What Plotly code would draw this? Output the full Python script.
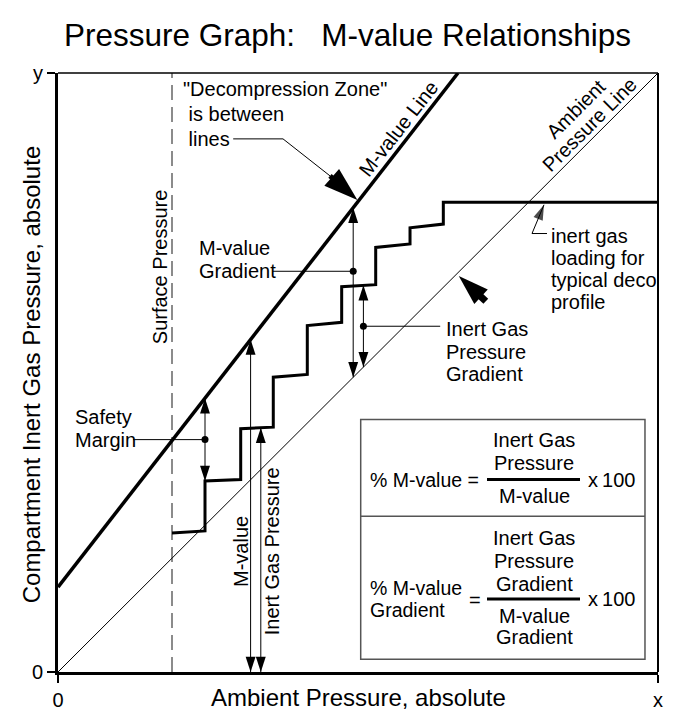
import numpy as np
import plotly.graph_objects as go

# ---------------- data ----------------
ambient_x = [0, 10]
ambient_y = [0, 10]
mvalue_x = [0, 6.667]
mvalue_y = [1.417, 10]
surface_x = [1.9, 1.9]
surface_y = [0, 10]
stair_x = [1.9, 2.45, 2.45, 3.045, 3.045, 3.588, 3.588, 4.155, 4.155,
           4.728, 4.728, 5.295, 5.295, 5.867, 5.867, 6.422, 6.422, 10]
stair_y = [2.322, 2.355, 3.188, 3.212, 4.062, 4.088, 4.922, 4.967, 5.783,
           5.838, 6.433, 6.467, 7.088, 7.145, 7.417, 7.478, 7.842, 7.842]
x_ticks = [0, 10]
x_tick_labels = ["0", "x"]
y_ticks = [0, 10]
y_tick_labels = ["0", "y"]

# x positions of the dimension arrows
safety_x = 2.45
mval_arrow_x = 3.21
igp_arrow_x = 3.38
mgrad_x = 4.92
iggrad_x = 5.09
mgrad_dot_y = 6.69

FONT = "Liberation Sans, Arial, sans-serif"
BLACK = "#000"

# the page body has an 8px default margin; size the figure to fit the window
PAGE_OFF = 8
FIG_W, FIG_H = 695 - PAGE_OFF, 728 - PAGE_OFF


def mval(x):
    return float(np.interp(x, mvalue_x, mvalue_y))


def stair_top(x):
    ys = []
    pts = list(zip(stair_x, stair_y))
    for (x0, y0), (x1, y1) in zip(pts, pts[1:]):
        if min(x0, x1) <= x <= max(x0, x1):
            if x1 == x0:
                ys += [y0, y1]
            else:
                ys.append(y0 + (y1 - y0) * (x - x0) / (x1 - x0))
    return max(ys)


def ang(dx, dy):
    return float(np.degrees(np.arctan2(dx, dy)))


fig = go.Figure()

# main lines
fig.add_trace(go.Scatter(x=surface_x, y=surface_y, mode="lines",
                         line=dict(color="#666", width=1.5, dash="15px,7px")))
fig.add_trace(go.Scatter(x=ambient_x, y=ambient_y, mode="lines",
                         line=dict(color=BLACK, width=1)))
fig.add_trace(go.Scatter(x=mvalue_x, y=mvalue_y, mode="lines",
                         line=dict(color=BLACK, width=3.5)))
fig.add_trace(go.Scatter(x=stair_x, y=stair_y, mode="lines",
                         line=dict(color=BLACK, width=3)))


def double_arrow(x, y0, y1):
    fig.add_trace(go.Scatter(
        x=[x, x], y=[y0, y1], mode="lines+markers",
        line=dict(color=BLACK, width=1),
        marker=dict(symbol="arrow", size=16, color=BLACK,
                    angle=[180, 0], line=dict(width=0))))


# dimension arrows
sm_top, sm_bot = mval(safety_x), stair_top(safety_x)
double_arrow(safety_x, sm_bot, sm_top)
double_arrow(mval_arrow_x, 0, mval(mval_arrow_x))
double_arrow(igp_arrow_x, 0, stair_top(igp_arrow_x))
double_arrow(mgrad_x, mgrad_x, mval(mgrad_x))
igg_top = stair_top(iggrad_x)
double_arrow(iggrad_x, iggrad_x, igg_top)

# leader lines + dots
sm_mid = (sm_top + sm_bot) / 2
igg_mid = (igg_top + iggrad_x) / 2
leaders = [
    ([1.25, safety_x], [sm_mid, sm_mid]),
    ([3.58, mgrad_x], [mgrad_dot_y, mgrad_dot_y]),
    ([iggrad_x, 6.37], [igg_mid, igg_mid]),
    ([2.92, 3.75, 4.533], [8.9, 8.9, 8.283]),
]
for lx, ly in leaders:
    fig.add_trace(go.Scatter(x=lx, y=ly, mode="lines",
                             line=dict(color=BLACK, width=1)))
fig.add_trace(go.Scatter(x=[safety_x, mgrad_x, iggrad_x],
                         y=[sm_mid, mgrad_dot_y, igg_mid], mode="markers",
                         marker=dict(color=BLACK, size=7)))

# "inert gas loading" leader with arrow
ig_x = [8.15, 7.9, 8.1]
ig_y = [7.32, 7.32, 7.8]
fig.add_trace(go.Scatter(x=ig_x, y=ig_y, mode="lines+markers",
                         line=dict(color=BLACK, width=1),
                         marker=dict(symbol="arrow", size=[0, 0, 16], color=BLACK,
                                     angle=[0, 0, ang(ig_x[2] - ig_x[1], ig_y[2] - ig_y[1])],
                                     line=dict(width=0))))


def fat_arrow(tail, tip, size=26, shaft=5):
    dx, dy = tip[0] - tail[0], tip[1] - tail[1]
    L = np.hypot(dx, dy)
    ux, uy = dx / L, dy / L
    end = (tip[0] - ux * 0.25, tip[1] - uy * 0.25)
    fig.add_trace(go.Scatter(x=[tail[0], end[0]], y=[tail[1], end[1]], mode="lines",
                             line=dict(color=BLACK, width=shaft)))
    fig.add_trace(go.Scatter(x=[tip[0]], y=[tip[1]], mode="markers",
                             marker=dict(symbol="arrow", size=size, color=BLACK,
                                         angle=ang(dx, dy), line=dict(width=0))))


fat_arrow((4.533, 8.283), (4.99, 7.88), size=36, shaft=5)
fat_arrow((7.13, 6.19), (6.68, 6.61), size=32, shaft=7)

annotations = []


def txt(lines, x, y, spacing=22.5, xanchor="left", size=20, angle=0, align="left"):
    n = len(lines)
    for i, line in enumerate(lines):
        shift = ((n - 1) / 2 - i) * spacing
        annotations.append(dict(x=x, y=y, xref="x", yref="y", text=line,
                                showarrow=False, xanchor=xanchor, yanchor="middle",
                                yshift=shift, textangle=angle, align=align,
                                font=dict(family=FONT, size=size, color=BLACK)))


NB = "\u00a0"
txt(['"Decompression Zone"', NB + "is between", NB + "lines"], 2.05, 9.317, spacing=25)
txt(["Safety", "Margin"], 0.25, 4.067, spacing=23.3)
txt(["M-value", "Gradient"], 2.31, 6.883, spacing=22.7)
txt(["Inert Gas", "Pressure", "Gradient"], 6.43, 5.35, spacing=22.5)
txt(["inert gas", "loading for", "typical deco", "profile"], 8.19, 6.73, spacing=22.2)
txt(["Surface Pressure"], 1.692, 6.767, xanchor="center", angle=-90)
txt(["M-value"], 3.047, 2.017, xanchor="center", angle=-90)
txt(["Inert Gas Pressure"], 3.567, 2.017, xanchor="center", angle=-90)
txt(["M-value Line"], 5.683, 9.083, xanchor="center", angle=-52)
txt(["Ambient"], 8.633, 9.4, xanchor="center", angle=-45)
txt(["Pressure Line"], 8.85, 9.133, xanchor="center", angle=-45)

# formula box text
txt(["% M-value ="], 5.16, 3.2, size=19.5)
txt(["Inert Gas", "Pressure"], 7.94, 3.675, spacing=23, xanchor="center")
txt(["M-value"], 7.94, 2.933, xanchor="center")
txt(["x\u2009100"], 9.225, 3.2, xanchor="center")
txt(["% M-value", "Gradient"], 5.16, 1.217, spacing=22, size=19.5)
txt(["="], 6.95, 1.2, xanchor="center")
txt(["Inert Gas", "Pressure", "Gradient"], 7.94, 1.85, spacing=22.7, xanchor="center")
txt(["M-value", "Gradient"], 7.94, 0.758, spacing=21, xanchor="center")
txt(["x\u2009100"], 9.225, 1.217, xanchor="center")

# axis titles
annotations.append(dict(x=0.5, y=-0.0433, xref="paper", yref="paper",
                        text="Ambient Pressure, absolute", showarrow=False,
                        xanchor="center", yanchor="middle",
                        font=dict(family=FONT, size=24, color=BLACK)))
annotations.append(dict(x=-0.045, y=0.497, xref="paper", yref="paper",
                        text="Compartment Inert Gas Pressure, absolute", showarrow=False,
                        xanchor="center", yanchor="middle", textangle=-90,
                        font=dict(family=FONT, size=24, color=BLACK)))

shapes = [
    # formula box and divider
    dict(type="rect", xref="x", yref="y", x0=5.045, x1=9.783, y0=0.212, y1=4.217,
         line=dict(color="#555", width=1.5)),
    dict(type="line", xref="x", yref="y", x0=5.045, x1=9.783, y0=2.6, y1=2.6,
         line=dict(color="#555", width=1.5)),
    # fraction bars
    dict(type="line", xref="x", yref="y", x0=7.15, x1=8.7, y0=3.212, y1=3.212,
         line=dict(color=BLACK, width=3)),
    dict(type="line", xref="x", yref="y", x0=7.15, x1=8.7, y0=1.217, y1=1.217,
         line=dict(color=BLACK, width=3)),
    # top and right frame (thin)
    dict(type="line", xref="paper", yref="paper", x0=0, x1=1, y0=1, y1=1,
         line=dict(color=BLACK, width=1.5)),
    dict(type="line", xref="paper", yref="paper", x0=1, x1=1, y0=0, y1=1,
         line=dict(color=BLACK, width=2)),
]

fig.update_layout(
    width=FIG_W, height=FIG_H,
    margin=dict(l=58 - PAGE_OFF, r=37, t=73 - PAGE_OFF, b=56, autoexpand=False),
    plot_bgcolor="white", paper_bgcolor="white",
    showlegend=False,
    title=dict(text="Pressure Graph:\u00a0\u00a0 M-value Relationships",
               x=(347.5 - PAGE_OFF) / FIG_W, xanchor="center",
               y=1 - (35 - PAGE_OFF) / FIG_H, yanchor="middle",
               xref="container", yref="container",
               font=dict(family=FONT, size=31.5, color=BLACK)),
    annotations=annotations,
    shapes=shapes,
    xaxis=dict(range=[0, 10], tickvals=x_ticks, ticktext=x_tick_labels,
               ticks="outside", ticklen=8, tickwidth=1.5, tickcolor=BLACK,
               showgrid=False, zeroline=False, showline=True, linewidth=3,
               linecolor=BLACK, mirror=False, automargin=False,
               tickfont=dict(family=FONT, size=20, color=BLACK)),
    yaxis=dict(range=[0, 10], tickvals=y_ticks, ticktext=y_tick_labels,
               ticks="outside", ticklen=8, tickwidth=1.5, tickcolor=BLACK,
               showgrid=False, zeroline=False, showline=True, linewidth=3,
               linecolor=BLACK, mirror=False, automargin=False,
               tickfont=dict(family=FONT, size=20, color=BLACK)),
)

fig.write_html("out.html")
